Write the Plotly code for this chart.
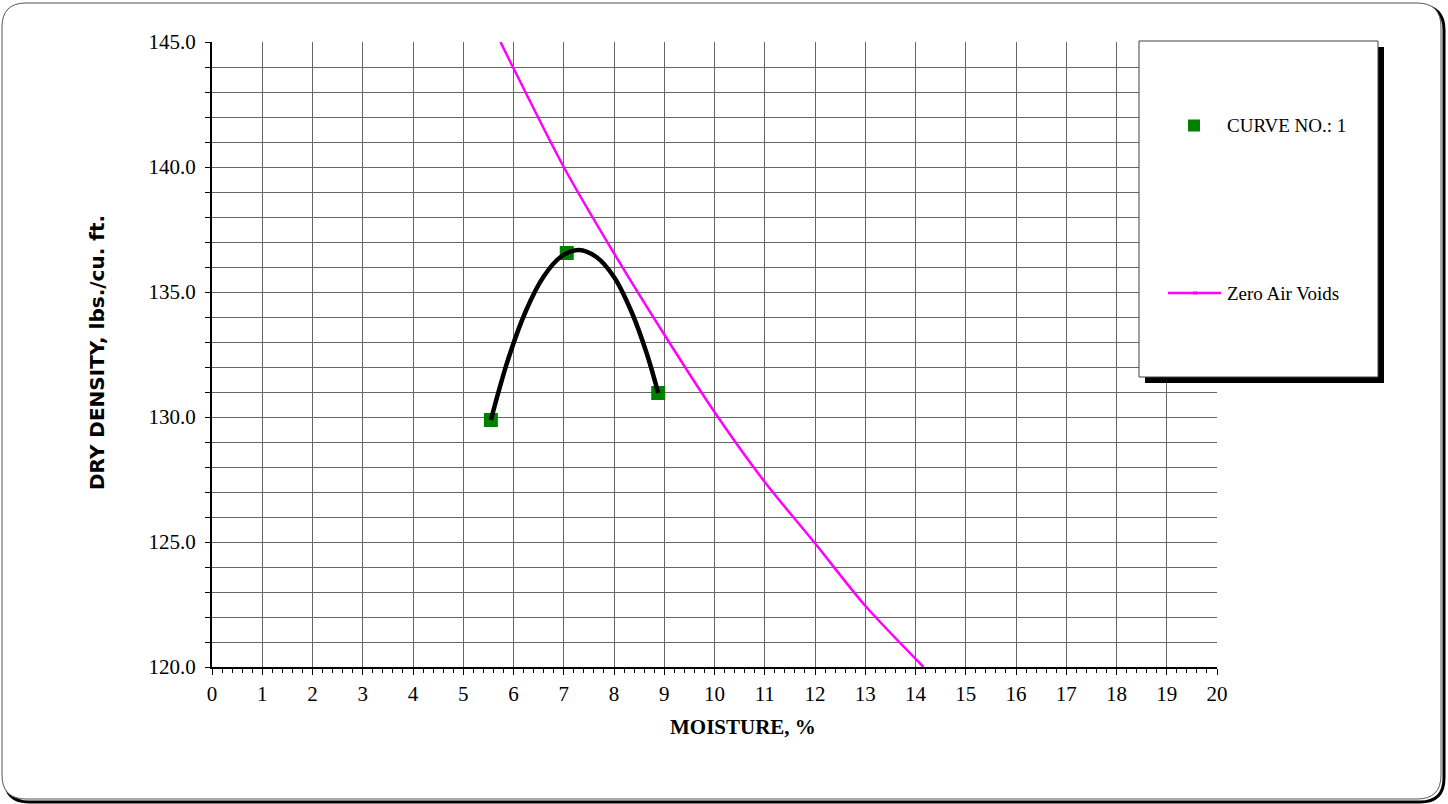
import plotly.graph_objects as go

# ---- data ----
moisture = [5.55, 7.06, 8.88]
dry_density = [129.88, 136.56, 130.96]

# fitted compaction curve
curve_moisture = [5.55, 5.9, 6.25, 6.6, 6.95, 7.3, 7.65, 8.0, 8.35, 8.65, 8.88]
curve_density = [129.88, 132.35, 134.26, 135.62, 136.42, 136.68, 136.4, 135.6, 134.2, 132.55, 130.96]

zav_moisture = [5.74, 6.0, 7.0, 8.0, 9.0, 10.0, 11.0, 12.0, 13.0, 14.16]
zav_density = [145.0, 143.95, 140.0, 136.55, 133.3, 130.2, 127.4, 124.95, 122.45, 120.0]

x_ticks = list(range(0, 21))
y_ticks = [120.0, 125.0, 130.0, 135.0, 140.0, 145.0]

W, H = 1448, 804
L, R, T, B = 212, 1217, 42, 667


def px(x):
    return (x - L) / (R - L)


def py(y):
    return (B - y) / (B - T)


def rounded_path(x0, y0, x1, y1, r):
    return (f"M {px(x0 + r)},{py(y0)} L {px(x1 - r)},{py(y0)} "
            f"Q {px(x1)},{py(y0)} {px(x1)},{py(y0 + r)} "
            f"L {px(x1)},{py(y1 - r)} "
            f"Q {px(x1)},{py(y1)} {px(x1 - r)},{py(y1)} "
            f"L {px(x0 + r)},{py(y1)} "
            f"Q {px(x0)},{py(y1)} {px(x0)},{py(y1 - r)} "
            f"L {px(x0)},{py(y0 + r)} "
            f"Q {px(x0)},{py(y0)} {px(x0 + r)},{py(y0)} Z")


fig = go.Figure()

fig.add_trace(go.Scatter(
    x=zav_moisture, y=zav_density, mode="lines",
    line=dict(color="#FF00FF", width=2.5, shape="spline", smoothing=0.8),
    name="Zero Air Voids", showlegend=False, hoverinfo="skip"))

fig.add_trace(go.Scatter(
    x=moisture, y=dry_density, mode="markers",
    marker=dict(symbol="square", size=14, color="#008000"),
    name="CURVE NO.: 1", showlegend=False))

fig.add_trace(go.Scatter(
    x=curve_moisture, y=curve_density, mode="lines",
    line=dict(color="black", width=4.5, shape="spline", smoothing=1),
    showlegend=False, hoverinfo="skip"))

serif = "Liberation Serif, Times New Roman, serif"
grid_col = "#666666"

fig.update_xaxes(
    range=[0, 20], tickvals=x_ticks, ticktext=[str(v) for v in x_ticks],
    showgrid=True, gridcolor=grid_col, gridwidth=1,
    showline=True, linecolor="black", linewidth=2,
    ticks="outside", ticklen=6, tickcolor="black", tickwidth=1,
    minor=dict(dtick=0.2, ticks="outside", ticklen=4, tickcolor="black", showgrid=False),
    tickfont=dict(family=serif, size=21, color="black"),
    zeroline=False, ticklabelstandoff=1)

fig.update_yaxes(
    range=[120, 145], tickvals=y_ticks, ticktext=[f"{v:.1f}" for v in y_ticks],
    showgrid=True, gridcolor=grid_col, gridwidth=1,
    showline=True, linecolor="black", linewidth=2,
    ticks="outside", ticklen=5, tickcolor="black", tickwidth=1,
    minor=dict(dtick=1, ticks="outside", ticklen=5, tickcolor="black",
               showgrid=True, gridcolor=grid_col, gridwidth=1),
    tickfont=dict(family=serif, size=21, color="black"),
    zeroline=False, ticklabelstandoff=5)

shapes = [
    # outer frame shadow and frame
    dict(type="path", xref="paper", yref="paper", path=rounded_path(5, 6, 1444, 802, 24),
         line=dict(color="black", width=3), layer="below"),
    dict(type="path", xref="paper", yref="paper", path=rounded_path(2, 3, 1441, 799, 24),
         line=dict(color="#555555", width=1), fillcolor="white", layer="below"),
    # legend box shadow and box
    dict(type="rect", xref="paper", yref="paper", x0=px(1145), x1=px(1384), y0=py(47), y1=py(383),
         line=dict(width=0), fillcolor="black", layer="above"),
    dict(type="rect", xref="paper", yref="paper", x0=px(1139), x1=px(1378), y0=py(41), y1=py(377),
         line=dict(color="#404040", width=1), fillcolor="white", layer="above"),
    # legend swatches
    dict(type="rect", xref="paper", yref="paper", x0=px(1188), x1=px(1200), y0=py(119.5), y1=py(131.5),
         line=dict(width=0), fillcolor="#008000", layer="above"),
    dict(type="line", xref="paper", yref="paper", x0=px(1168), x1=px(1221), y0=py(293), y1=py(293),
         line=dict(color="#FF00FF", width=2.5), layer="above"),
    dict(type="rect", xref="paper", yref="paper", x0=px(1193), x1=px(1197), y0=py(291.5), y1=py(294.5),
         line=dict(width=0), fillcolor="#FF00FF", layer="above"),
]

annotations = [
    dict(text="CURVE NO.: 1", xref="paper", yref="paper", x=px(1225), y=py(125.5),
         xanchor="left", yanchor="middle", showarrow=False,
         font=dict(family=serif, size=19, color="black")),
    dict(text="Zero Air Voids", xref="paper", yref="paper", x=px(1225), y=py(293),
         xanchor="left", yanchor="middle", showarrow=False,
         font=dict(family=serif, size=19, color="black")),
    dict(text="<b>MOISTURE, %</b>", xref="paper", yref="paper", x=px(743), y=py(727),
         xanchor="center", yanchor="middle", showarrow=False,
         font=dict(family=serif, size=21, color="black")),
    dict(text="<b>DRY DENSITY, lbs./cu. ft.</b>", xref="paper", yref="paper", x=px(97), y=py(353),
         xanchor="center", yanchor="middle", showarrow=False, textangle=-90,
         font=dict(family="DejaVu Sans, Verdana, sans-serif", size=20, color="black")),
]

fig.update_layout(
    width=W, height=H,
    margin=dict(l=L, r=W - R, t=T, b=H - B, pad=0),
    paper_bgcolor="white", plot_bgcolor="white",
    shapes=shapes, annotations=annotations, showlegend=False)

fig.write_html("out.html", config={"displayModeBar": False},
               post_script="document.body.style.margin='0';")
